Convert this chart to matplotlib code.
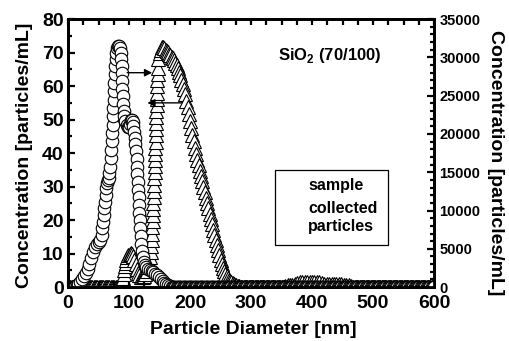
import numpy as np
import matplotlib
matplotlib.use("Agg")
import matplotlib.pyplot as plt
from matplotlib.patches import Rectangle
from matplotlib.ticker import MultipleLocator

plt.rcParams["font.family"] = ["Liberation Sans", "DejaVu Sans"]
plt.rcParams["font.weight"] = "bold"
plt.rcParams["mathtext.fontset"] = "custom"
plt.rcParams["mathtext.rm"] = "Liberation Sans:bold"
plt.rcParams["mathtext.bf"] = "Liberation Sans:bold"

# ---------------------------------------------------------------------------
# Data
# ---------------------------------------------------------------------------
# sample (circles, left axis, particles/mL)
sample_x = [14, 17, 20, 23, 26, 29, 32, 35, 38, 41, 44, 47, 50, 53, 55, 56.5,
            57.5, 58.5, 59.5, 60.5, 61.5, 62.5, 63.5, 65, 66.5, 68, 69, 70, 71,
            72, 72.7, 73.3, 73.8, 74.3, 74.8, 75.3, 75.8, 76.4, 77.2, 78.2,
            79.4, 80.8, 82.3, 83.8, 85.2, 86.3, 87.2, 87.9, 88.4, 88.8, 89.2,
            89.7, 90.3, 91.2, 92.5, 94.2, 96, 98, 100, 101.5, 103, 104.5, 106,
            107.3, 108.5, 109.6, 110.6, 111.5, 112.3, 113, 113.7, 114.4, 115.1,
            115.8, 116.5, 117.2, 117.9, 118.6, 119.4, 120.3, 121.3, 122.5, 124,
            126, 128.5, 131, 134, 137, 140, 143, 146, 149, 152, 155, 158, 161,
            164, 167]
sample_y = [0.3, 0.8, 1.5, 2.3, 3.2, 4.2, 5.5, 7.0, 8.7, 10.5, 12.0, 13.0, 13.6,
            14.2, 15.5, 17.5, 19.5, 21.5, 23.5, 25.5, 27.5, 29.5, 31.0, 32.0,
            32.6, 34.0, 36.0, 38.5, 41.0, 43.5, 46.0, 48.5, 51.0, 53.5, 56.0,
            58.5, 61.0, 63.5, 66.0, 68.2, 70.0, 71.3, 72.0, 72.0, 71.3, 70.0,
            68.2, 66.0, 63.8, 61.5, 59.2, 57.0, 54.8, 52.7, 51.0, 49.6, 48.5,
            47.8, 47.8, 48.8, 49.8, 50.0, 49.3, 48.0, 46.4, 44.6, 42.6, 40.5,
            38.3, 36.0, 33.7, 31.4, 29.1, 26.8, 24.5, 22.2, 19.9, 17.6, 15.3,
            13.0, 10.9, 9.0, 7.6, 6.6, 5.9, 5.4, 5.0, 4.7, 4.4, 4.0, 3.5, 3.0,
            2.4, 1.8, 1.3, 0.9, 0.5, 0.2]
sample_zero = [(0, 12), (170, 600)]

# collected particles (triangles, right axis, particles/mL)
coll_x = [88, 89.5, 90.5, 91.5, 92.5, 93.5, 94.5, 95.5, 97, 99, 101, 103, 105,
          107, 109, 111, 113, 115, 117, 119, 121, 123, 125, 127, 129, 131, 133,
          134.5, 135.5, 136.3, 137, 137.6, 138.2, 138.7, 139.2, 139.6, 140,
          140.4, 140.8, 141.2, 141.6, 142, 142.3, 142.6, 142.9, 143.2, 143.5,
          143.8, 144.1, 144.4, 144.7, 145, 145.3, 145.6, 145.9, 146.2, 146.5,
          146.8, 147.2,
          148, 150, 152, 154, 156, 158, 160, 162, 164, 166, 168, 170, 172, 174,
          176, 178, 180, 182, 184, 186, 188, 190, 192, 194, 196, 198, 200, 202,
          204, 206, 208, 210, 212, 214, 216, 218, 220, 222, 224, 226, 228, 230,
          232, 234, 236, 238, 240, 242, 244, 246, 248, 250, 252, 254, 256, 258,
          260, 262, 264, 266, 268, 270, 272, 274, 276, 278, 280,
          356, 360, 364, 368, 372, 376, 380, 384, 388, 392, 396, 400, 404, 408,
          412, 416, 420, 424, 428, 432, 436, 440, 444, 448, 452, 456, 460, 464,
          468]
coll_y = [200, 700, 1200, 1700, 2200, 2700, 3150, 3550, 3900, 4150, 4300, 4400,
          4350, 4100, 3600, 3000, 2400, 1900, 1550, 1350, 1300, 1350, 1500,
          1750, 2100, 2600, 3200, 3900, 4600, 5400, 6200, 7000, 7800, 8600,
          9400, 10200, 11000, 11800, 12600, 13400, 14200, 15000, 15800, 16600,
          17400, 18200, 19000, 19800, 20600, 21400, 22200, 23000, 23800, 24600,
          25400, 26200, 27000, 27800, 28600,
          29850, 30550, 31000, 31300, 31300, 31200, 31000, 30850, 30650, 30500,
          30300, 30100, 29900, 29600, 29300, 28950, 28550, 28150, 27650, 27100,
          26550, 25900, 25200, 24350, 23500, 22600, 21650, 20800, 19900, 19050,
          18150, 17350, 16600, 15900, 15200, 14500, 13850, 13100, 12400, 11700,
          11000, 10300, 9600, 8900, 8200, 7500, 6800, 6100, 5450, 4800, 4200,
          3600, 3050, 2550, 2100, 1700, 1400, 1150, 920, 740, 610, 480, 390,
          310, 220, 150, 110,
          150, 250, 280, 300, 350, 550, 650, 680, 700, 720, 720, 720, 700, 680,
          650, 500, 420, 400, 390, 380, 380, 370, 360, 350, 330, 300, 250, 150,
          50]
coll_zero = [(0, 86), (284, 354), (470, 600)]

x_ticks = [0, 100, 200, 300, 400, 500, 600]
left_ticks = [0, 10, 20, 30, 40, 50, 60, 70, 80]
right_ticks = [0, 5000, 10000, 15000, 20000, 25000, 30000, 35000]


def with_zero_runs(xs, ys, runs, step=2):
    """Add the flat zero stretches (one marker per size bin)."""
    bx = np.concatenate([np.arange(a, b + 1, step) for a, b in runs])
    x = np.concatenate([bx, np.asarray(xs, float)])
    y = np.concatenate([np.zeros(len(bx)), np.asarray(ys, float)])
    order = np.argsort(x, kind="stable")
    return x[order], y[order]


# ---------------------------------------------------------------------------
# Plot
# ---------------------------------------------------------------------------
fig = plt.figure(figsize=(5.09, 3.41), dpi=100)
ax = fig.add_axes([0.1336, 0.158, 0.7191, 0.786])
ax2 = ax.twinx()
ax.set_zorder(ax2.get_zorder() + 1)
ax.patch.set_visible(False)

cx, cy = with_zero_runs(coll_x, coll_y, coll_zero)
ax2.plot(cx, cy, linestyle="none", marker="^", markersize=9.5,
         markerfacecolor="white", markeredgecolor="black", markeredgewidth=0.8)

sx, sy = with_zero_runs(sample_x, sample_y, sample_zero)
ax.plot(sx, sy, linestyle="none", marker="o", markersize=9,
        markerfacecolor="white", markeredgecolor="black", markeredgewidth=0.8)

ax.set_xlim(0, 600)
ax.set_ylim(0, 80)
ax2.set_ylim(0, 35000)

ax.set_xticks(x_ticks)
ax.xaxis.set_minor_locator(MultipleLocator(25))
ax.set_yticks(left_ticks)
ax.yaxis.set_minor_locator(MultipleLocator(5))
ax2.set_yticks(right_ticks)
ax2.yaxis.set_minor_locator(MultipleLocator(1000))

ax.tick_params(axis="both", which="both", direction="in", top=True, width=1.6)
ax.tick_params(axis="both", which="major", length=5, labelsize=14, pad=3)
ax.tick_params(axis="both", which="minor", length=3)
ax.tick_params(axis="x", which="both", length=4)
ax.tick_params(axis="x", which="major", pad=6)
ax2.tick_params(axis="y", which="both", direction="in", width=1.6)
ax2.tick_params(axis="y", which="major", length=5, pad=4, labelsize=10.5)
ax2.tick_params(axis="y", which="minor", length=3)

for a in (ax, ax2):
    for spine in a.spines.values():
        spine.set_linewidth(2.0)

ax.set_xlabel("Particle Diameter [nm]", fontsize=14, fontweight="bold")
ax.xaxis.set_label_coords(0.505, -0.128)
ax.set_ylabel("Concentration [particles/mL]", fontsize=14, fontweight="bold",
              va="center")
ax.yaxis.set_label_coords(-0.119, 0.49)
ax2.set_ylabel("Concentration [particles/mL]", fontsize=14, fontweight="bold",
               rotation=-90, va="center")
ax2.yaxis.set_label_coords(1.167, 0.466)

# arrows telling which axis each curve belongs to
ax.annotate("", xy=(138, 64), xytext=(97, 64),
            arrowprops=dict(arrowstyle="-|>", color="black", lw=1.0,
                            mutation_scale=11, shrinkA=0, shrinkB=0), zorder=5)
ax.annotate("", xy=(130, 55), xytext=(187, 55),
            arrowprops=dict(arrowstyle="-|>", color="black", lw=1.0,
                            mutation_scale=11, shrinkA=0, shrinkB=0), zorder=5)

ax.text(0.574, 0.866, r"SiO$_\mathbf{2}$ (70/100)", transform=ax.transAxes,
        fontsize=12, fontweight="bold", ha="left", va="center")

# legend box (symbols are blank in the original)
ax.add_patch(Rectangle((0.566, 0.157), 0.308, 0.28, transform=ax.transAxes,
                       fill=False, edgecolor="black", linewidth=0.9, zorder=4))
ax.text(0.658, 0.381, "sample", transform=ax.transAxes, fontsize=11.5,
        fontweight="bold", ha="left", va="center")
ax.text(0.656, 0.295, "collected", transform=ax.transAxes, fontsize=11.5,
        fontweight="bold", ha="left", va="center")
ax.text(0.656, 0.228, "particles", transform=ax.transAxes, fontsize=11.5,
        fontweight="bold", ha="left", va="center")

fig.savefig("out.png", dpi=100)
